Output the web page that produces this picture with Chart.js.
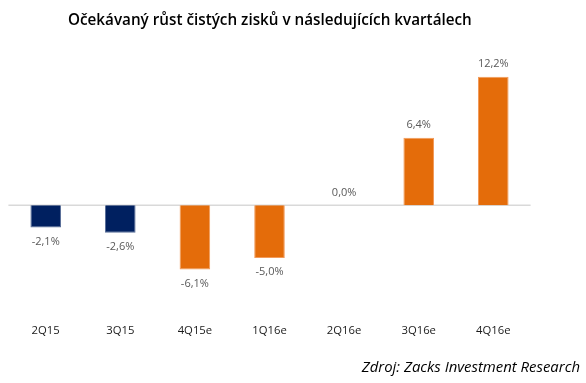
<!DOCTYPE html>
<html>
<head>
<meta charset="utf-8">
<script src="https://cdn.jsdelivr.net/npm/chart.js@4"></script>
<style>
  html, body { margin: 0; padding: 0; background: #ffffff; }
  #wrap { position: relative; width: 586px; height: 383px; overflow: hidden; }
  #chart { position: absolute; left: 0; top: 0; }
  #title { position: absolute; left: 68px; top: 8.5px; white-space: nowrap;
    font-family: "Open Sans", sans-serif; font-weight: 600; font-size: 15.25px; color: #000; }
  #source { position: absolute; right: 6px; top: 356px; white-space: nowrap;
    font-family: "Open Sans", sans-serif; font-style: italic; font-size: 14.9px; color: #000; }
</style>
</head>
<body>
<div id="wrap">
  <canvas id="chart" width="586" height="383"></canvas>
  <div id="title">Očekávaný růst čistých zisků v následujících kvartálech</div>
  <div id="source">Zdroj: Zacks Investment Research</div>
</div>
<script>
const categories = ["2Q15", "3Q15", "4Q15e", "1Q16e", "2Q16e", "3Q16e", "4Q16e"];
const growthValues = [-2.1, -2.6, -6.1, -5.0, 0.0, 6.4, 12.2];
const barColors = ["#002060", "#002060", "#E46C0A", "#E46C0A", "#E46C0A", "#E46C0A", "#E46C0A"];
const barBorderColors = ["#5a6f99", "#5a6f99", "#F29A5A", "#F29A5A", "#F29A5A", "#F29A5A", "#F29A5A"];

const zeroLine = {
  id: 'zeroLine',
  beforeDatasetsDraw(chart) {
    const { ctx, chartArea, scales } = chart;
    const y = scales.y.getPixelForValue(0);
    ctx.save();
    ctx.strokeStyle = '#D9D9D9';
    ctx.lineWidth = 1.5;
    ctx.beginPath();
    ctx.moveTo(chartArea.left, y);
    ctx.lineTo(chartArea.right, y);
    ctx.stroke();
    ctx.restore();
  }
};

const valueLabels = {
  id: 'valueLabels',
  afterDatasetsDraw(chart) {
    const { ctx } = chart;
    const meta = chart.getDatasetMeta(0);
    const data = chart.data.datasets[0].data;
    ctx.save();
    ctx.font = '11px "Open Sans", sans-serif';
    ctx.fillStyle = '#595959';
    ctx.textAlign = 'center';
    ctx.textBaseline = 'middle';
    meta.data.forEach((bar, i) => {
      const v = data[i];
      const txt = v.toFixed(1).replace('.', ',') + '%';
      const y = v < 0 ? bar.y + 14 : bar.y - 12.7;
      ctx.fillText(txt, bar.x, y);
    });
    ctx.restore();
  }
};

new Chart(document.getElementById('chart'), {
  type: 'bar',
  data: {
    labels: categories,
    datasets: [{
      data: growthValues,
      backgroundColor: barColors,
      borderColor: barBorderColors,
      borderWidth: 1,
      categoryPercentage: 1,
      barPercentage: 0.41
    }]
  },
  options: {
    responsive: false,
    animation: false,
    layout: { padding: { left: 8.4, right: 55.4, top: 57.7, bottom: 32.1 } },
    plugins: { legend: { display: false }, tooltip: { enabled: false }, title: { display: false } },
    scales: {
      x: {
        grid: { display: false, drawTicks: false },
        border: { display: false },
        ticks: { padding: 13.3, color: '#1a1a1a', font: { family: '"Open Sans", sans-serif', size: 11.3 } }
      },
      y: {
        display: false,
        min: -10,
        max: 14
      }
    }
  },
  plugins: [zeroLine, valueLabels]
});
</script>
</body>
</html>
